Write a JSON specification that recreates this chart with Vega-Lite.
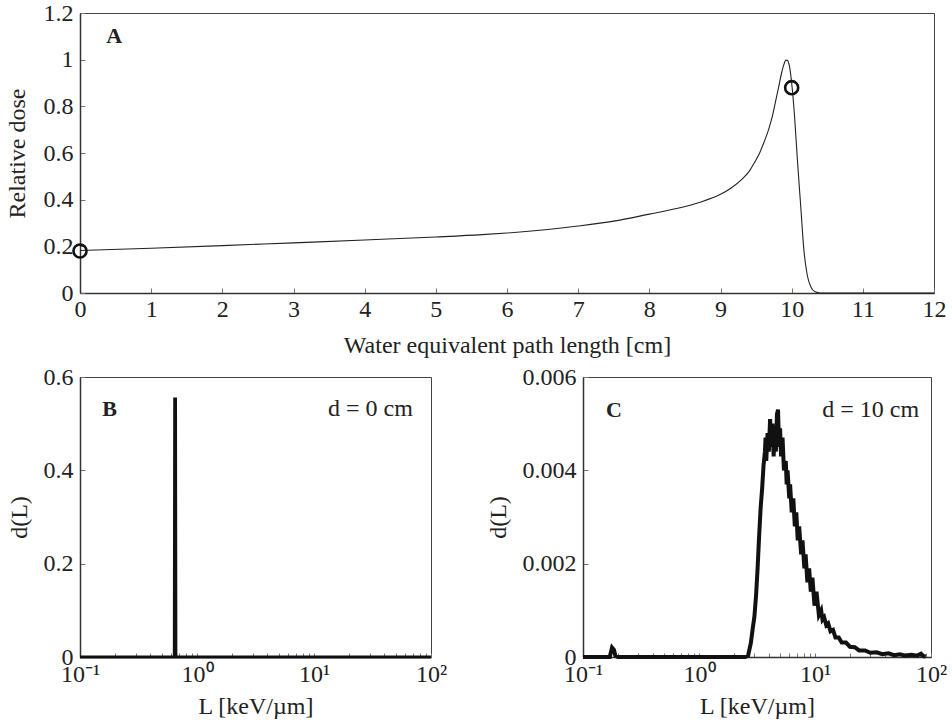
{
  "$schema": "https://vega.github.io/schema/vega-lite/v6.json",
  "background": "white",
  "padding": {"left": 4, "top": 0, "right": 2, "bottom": 2},
  "config": {
    "font": "Liberation Serif",
    "view": {"stroke": "#444", "strokeWidth": 1},
    "axis": {
      "grid": false,
      "domainColor": "#333",
      "domainWidth": 1.5,
      "tickColor": "#777",
      "tickSize": -5,
      "labelPadding": 12,
      "labelFontSize": 24,
      "labelColor": "#222",
      "labelFlush": false,
      "labelOverlap": false,
      "titleFontSize": 24,
      "titleFontWeight": "normal",
      "titleColor": "#222",
      "labelFont": "Liberation Serif",
      "titleFont": "Liberation Serif"
    }
  },
  "spacing": 6,
  "vconcat": [
    {
      "width": 854,
      "height": 280,
      "layer": [
        {
          "data": {"values": [
            {"depth": 0, "dose": 0.182}, {"depth": 1, "dose": 0.192}, {"depth": 2, "dose": 0.203},
            {"depth": 3, "dose": 0.215}, {"depth": 4, "dose": 0.227}, {"depth": 5, "dose": 0.240},
            {"depth": 5.65, "dose": 0.250}, {"depth": 6, "dose": 0.257}, {"depth": 6.5, "dose": 0.270},
            {"depth": 7, "dose": 0.287}, {"depth": 7.5, "dose": 0.308}, {"depth": 8, "dose": 0.338},
            {"depth": 8.4, "dose": 0.363}, {"depth": 8.7, "dose": 0.388}, {"depth": 9.0, "dose": 0.423},
            {"depth": 9.15, "dose": 0.45}, {"depth": 9.3, "dose": 0.487}, {"depth": 9.4, "dose": 0.52}, {"depth": 9.47, "dose": 0.555},
            {"depth": 9.55, "dose": 0.60}, {"depth": 9.61, "dose": 0.645}, {"depth": 9.67, "dose": 0.695}, {"depth": 9.73, "dose": 0.759},
            {"depth": 9.78, "dose": 0.83}, {"depth": 9.82, "dose": 0.887},
            {"depth": 9.86, "dose": 0.945}, {"depth": 9.89, "dose": 0.979}, {"depth": 9.92, "dose": 0.998}, {"depth": 9.94, "dose": 0.997}, {"depth": 9.97, "dose": 0.97},
            {"depth": 10.0, "dose": 0.90}, {"depth": 10.04, "dose": 0.76}, {"depth": 10.08, "dose": 0.573},
            {"depth": 10.13, "dose": 0.36}, {"depth": 10.17, "dose": 0.19}, {"depth": 10.22, "dose": 0.075},
            {"depth": 10.27, "dose": 0.026}, {"depth": 10.33, "dose": 0.005}, {"depth": 10.4, "dose": 0.0},
            {"depth": 12, "dose": 0.0}
          ]},
          "mark": {"type": "line", "color": "#222", "strokeWidth": 1.1, "interpolate": "monotone"},
          "encoding": {
            "x": {"field": "depth", "type": "quantitative",
              "scale": {"domain": [0, 12], "nice": false},
              "axis": {"title": "Water equivalent path length [cm]", "values": [0,1,2,3,4,5,6,7,8,9,10,11,12], "labelExpr": "format(datum.value, '~f')", "labelPadding": 9, "titlePadding": 12}},
            "y": {"field": "dose", "type": "quantitative",
              "scale": {"domain": [0, 1.2], "nice": false},
              "axis": {"title": "Relative dose", "values": [0,0.2,0.4,0.6,0.8,1,1.2], "labelExpr": "format(datum.value, '~f')", "titlePadding": 14}}
          }
        },
        {
          "data": {"values": [{"depth": 0, "dose": 0.18}, {"depth": 10, "dose": 0.88}]},
          "mark": {"type": "point", "filled": false, "color": "#111", "strokeWidth": 2.6, "size": 170, "opacity": 1},
          "encoding": {
            "x": {"field": "depth", "type": "quantitative"},
            "y": {"field": "dose", "type": "quantitative"}
          }
        },
        {
          "data": {"values": [{"depth": 0.37, "dose": 1.1, "label": "A"}]},
          "mark": {"type": "text", "align": "left", "baseline": "middle", "fontWeight": "bold", "fontSize": 22, "color": "#222"},
          "encoding": {
            "x": {"field": "depth", "type": "quantitative"},
            "y": {"field": "dose", "type": "quantitative"},
            "text": {"field": "label"}
          }
        }
      ]
    },
    {
      "spacing": 37,
      "hconcat": [
        {
          "width": 351,
          "height": 280,
          "layer": [
            {
              "data": {"values": [
                {"L": 0.1, "d": 0}, {"L": 0.64, "d": 0}, {"L": 0.645, "d": 0.553},
                {"L": 0.655, "d": 0.553}, {"L": 0.66, "d": 0}, {"L": 100, "d": 0}
              ]},
              "mark": {"type": "line", "color": "#111", "strokeWidth": 3},
              "encoding": {
                "x": {"field": "L", "type": "quantitative",
                  "scale": {"type": "log", "domain": [0.1, 100], "nice": false},
                  "axis": {"title": "L [keV/µm]", "values": [0.1,0.2,0.3,0.4,0.5,0.6,0.7,0.8,0.9,1,2,3,4,5,6,7,8,9,10,20,30,40,50,60,70,80,90,100],
                    "labelExpr": "datum.value == 0.1 ? '10⁻¹' : datum.value == 1 ? '10⁰' : datum.value == 10 ? '10¹' : datum.value == 100 ? '10²' : ''",
                    "tickSize": -4, "labelPadding": 9, "titlePadding": 8}},
                "y": {"field": "d", "type": "quantitative",
                  "scale": {"domain": [0, 0.6], "nice": false},
                  "axis": {"title": "d(L)", "values": [0, 0.2, 0.4, 0.6], "labelExpr": "format(datum.value, '~f')", "labelPadding": 12, "titlePadding": 12}}
              }
            },
            {
              "data": {"values": [
                {"L": 0.155, "d": 0.531, "label": "B"}
              ]},
              "mark": {"type": "text", "align": "left", "baseline": "middle", "fontWeight": "bold", "fontSize": 22, "color": "#222"},
              "encoding": {
                "x": {"field": "L", "type": "quantitative"},
                "y": {"field": "d", "type": "quantitative"},
                "text": {"field": "label"}
              }
            },
            {
              "data": {"values": [
                {"L": 70, "d": 0.531, "label": "d = 0 cm"}
              ]},
              "mark": {"type": "text", "align": "right", "baseline": "middle", "fontSize": 24, "color": "#222"},
              "encoding": {
                "x": {"field": "L", "type": "quantitative"},
                "y": {"field": "d", "type": "quantitative"},
                "text": {"field": "label"}
              }
            }
          ]
        },
        {
          "width": 348,
          "height": 280,
          "layer": [
            {
              "data": {"values": [
                {"L": 0.1, "d": 0}, {"L": 0.17, "d": 0}, {"L": 0.178, "d": 0.0002}, {"L": 0.185, "d": 0.00015},
                {"L": 0.19, "d": 0.00003}, {"L": 0.2, "d": 0}, {"L": 2.5, "d": 0}, {"L": 2.65, "d": 0.00003},
                {"L": 2.8, "d": 0.0003}, {"L": 2.9, "d": 0.0006}, {"L": 3.0, "d": 0.00085}, {"L": 3.1, "d": 0.0013},
                {"L": 3.2, "d": 0.0019}, {"L": 3.3, "d": 0.0026}, {"L": 3.4, "d": 0.0032}, {"L": 3.5, "d": 0.0036},
                {"L": 3.6, "d": 0.0041}, {"L": 3.7, "d": 0.0044}, {"L": 3.75, "d": 0.0047}, {"L": 3.8, "d": 0.0042},
                {"L": 3.9, "d": 0.0048}, {"L": 4.0, "d": 0.0044}, {"L": 4.1, "d": 0.0051}, {"L": 4.2, "d": 0.0045},
                {"L": 4.3, "d": 0.0050}, {"L": 4.4, "d": 0.0043}, {"L": 4.5, "d": 0.0049}, {"L": 4.6, "d": 0.0044},
                {"L": 4.7, "d": 0.0052}, {"L": 4.8, "d": 0.0053}, {"L": 4.9, "d": 0.0045}, {"L": 5.0, "d": 0.0049},
                {"L": 5.1, "d": 0.0043}, {"L": 5.25, "d": 0.0047}, {"L": 5.4, "d": 0.0040}, {"L": 5.6, "d": 0.0042},
                {"L": 5.7, "d": 0.0037}, {"L": 5.8, "d": 0.0040}, {"L": 6.0, "d": 0.0034}, {"L": 6.1, "d": 0.0037},
                {"L": 6.3, "d": 0.0031}, {"L": 6.5, "d": 0.0034}, {"L": 6.7, "d": 0.0028}, {"L": 6.9, "d": 0.0031},
                {"L": 7.1, "d": 0.0025}, {"L": 7.3, "d": 0.0028}, {"L": 7.6, "d": 0.0022}, {"L": 7.8, "d": 0.0025},
                {"L": 8.1, "d": 0.0019}, {"L": 8.3, "d": 0.0022}, {"L": 8.6, "d": 0.0016}, {"L": 8.9, "d": 0.0019},
                {"L": 9.2, "d": 0.0014}, {"L": 9.5, "d": 0.0017}, {"L": 9.9, "d": 0.0011}, {"L": 10.3, "d": 0.0014},
                {"L": 10.8, "d": 0.0009}, {"L": 11.3, "d": 0.0010}, {"L": 11.6, "d": 0.0008}, {"L": 12.0, "d": 0.00085},
                {"L": 12.5, "d": 0.00068}, {"L": 13.0, "d": 0.00072}, {"L": 13.6, "d": 0.00055}, {"L": 14.3, "d": 0.00058},
                {"L": 15, "d": 0.00042}, {"L": 16, "d": 0.00042}, {"L": 17, "d": 0.00031}, {"L": 18.5, "d": 0.00031},
                {"L": 20, "d": 0.00022}, {"L": 22, "d": 0.00021}, {"L": 24, "d": 0.00014}, {"L": 27, "d": 0.00014},
                {"L": 30, "d": 0.00009}, {"L": 34, "d": 0.0001}, {"L": 38, "d": 0.00006}, {"L": 43, "d": 0.00008},
                {"L": 48, "d": 0.00004}, {"L": 54, "d": 0.00006}, {"L": 60, "d": 0.00003}, {"L": 68, "d": 0.00005},
                {"L": 76, "d": 0.00003}, {"L": 82, "d": 0.00007}, {"L": 86, "d": 0.00002}, {"L": 90, "d": 0.00001}
              ]},
              "mark": {"type": "line", "color": "#111", "strokeWidth": 4},
              "encoding": {
                "x": {"field": "L", "type": "quantitative",
                  "scale": {"type": "log", "domain": [0.1, 100], "nice": false},
                  "axis": {"title": "L [keV/µm]", "values": [0.1,0.2,0.3,0.4,0.5,0.6,0.7,0.8,0.9,1,2,3,4,5,6,7,8,9,10,20,30,40,50,60,70,80,90,100],
                    "labelExpr": "datum.value == 0.1 ? '10⁻¹' : datum.value == 1 ? '10⁰' : datum.value == 10 ? '10¹' : datum.value == 100 ? '10²' : ''",
                    "tickSize": -4, "labelPadding": 9, "titlePadding": 8}},
                "y": {"field": "d", "type": "quantitative",
                  "scale": {"domain": [0, 0.006], "nice": false},
                  "axis": {"title": "d(L)", "values": [0, 0.002, 0.004, 0.006], "labelExpr": "format(datum.value, '~f')", "labelPadding": 12, "titlePadding": 12}}
              }
            },
            {
              "data": {"values": [
                {"L": 0.158, "d": 0.0053, "label": "C"}
              ]},
              "mark": {"type": "text", "align": "left", "baseline": "middle", "fontWeight": "bold", "fontSize": 22, "color": "#222"},
              "encoding": {
                "x": {"field": "L", "type": "quantitative"},
                "y": {"field": "d", "type": "quantitative"},
                "text": {"field": "label"}
              }
            },
            {
              "data": {"values": [
                {"L": 79, "d": 0.0053, "label": "d = 10 cm"}
              ]},
              "mark": {"type": "text", "align": "right", "baseline": "middle", "fontSize": 24, "color": "#222"},
              "encoding": {
                "x": {"field": "L", "type": "quantitative"},
                "y": {"field": "d", "type": "quantitative"},
                "text": {"field": "label"}
              }
            }
          ]
        }
      ]
    }
  ]
}
